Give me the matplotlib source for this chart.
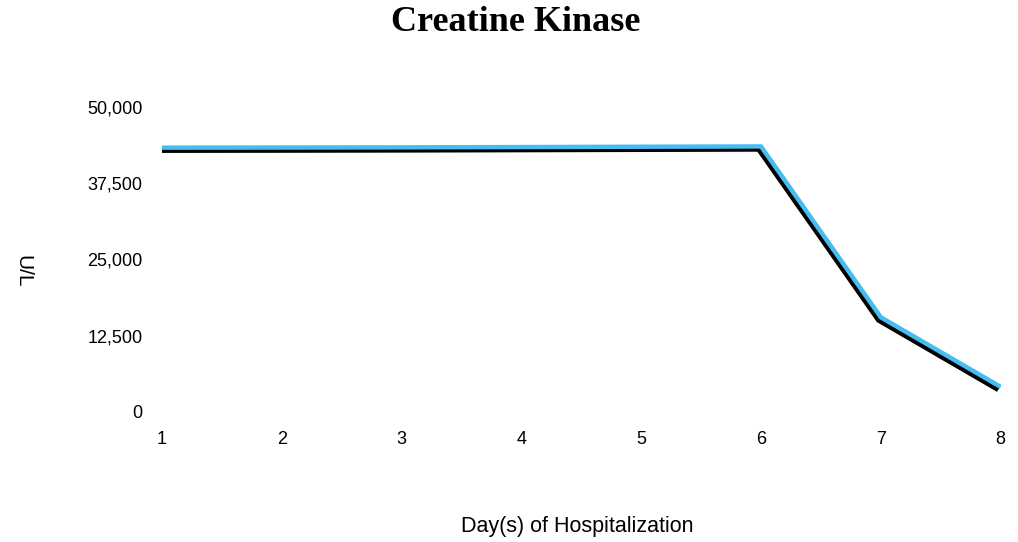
import matplotlib
matplotlib.use("Agg")
import matplotlib.patheffects as pe
from matplotlib import pyplot as plt
from matplotlib.ticker import FuncFormatter

days = [1, 2, 3, 4, 5, 6, 7, 8]
ck_values = [43300, 43320, 43350, 43400, 43450, 43500, 15500, 4100]
y_ticks = [0, 12500, 25000, 37500, 50000]

plt.rcParams["font.family"] = ["Liberation Sans", "DejaVu Sans"]

fig = plt.figure(figsize=(10.18, 5.42), dpi=100)
ax = fig.add_axes([0.159, 0.240, 0.824, 0.563])

# blue line with a black drop shadow below it
ax.plot(
    days, ck_values, color="#45BDF0", linewidth=3.2, solid_capstyle="butt",
    solid_joinstyle="miter",
    path_effects=[
        pe.SimpleLineShadow(offset=(-1.8, -2.2), shadow_color="black", alpha=1.0),
        pe.Normal(),
    ],
)

ax.set_xlim(1, 8)
ax.set_ylim(0, 50000)
ax.set_xticks(days)
ax.set_yticks(y_ticks)
ax.yaxis.set_major_formatter(FuncFormatter(lambda v, _: f"{int(v):,}"))
ax.tick_params(length=0, labelsize=13)
ax.tick_params(axis="x", pad=14)
ax.tick_params(axis="y", pad=14)
for s in ax.spines.values():
    s.set_visible(False)

fig.text(0.507, 0.958, "Creatine Kinase", ha="center", va="center", fontsize=26,
         fontweight="bold", family=["Liberation Serif", "DejaVu Serif"])
fig.text(0.567, 0.029, "Day(s) of Hospitalization", ha="center", va="center", fontsize=15.5)
fig.text(0.022, 0.5, "U/L", rotation=270, ha="center", va="center", fontsize=15)

fig.savefig("out.png", dpi=100, facecolor="white")
